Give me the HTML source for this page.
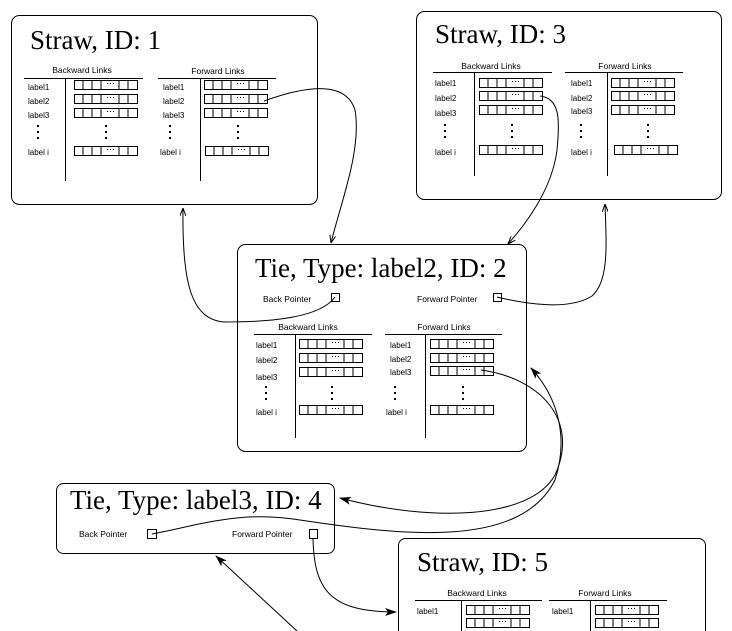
<!DOCTYPE html>
<html><head><meta charset="utf-8"><style>
html,body{margin:0;padding:0;background:#fff;}
svg{display:block;}
.t{font-family:"Liberation Serif",serif;font-size:27px;fill:#000;}
.s{font-family:"Liberation Sans",sans-serif;font-size:8px;fill:#000;}
.h{font-family:"Liberation Sans",sans-serif;font-size:8.5px;fill:#000;text-anchor:middle;}
.p{font-family:"Liberation Sans",sans-serif;font-size:8.5px;fill:#000;}
</style></head><body>
<svg width="732" height="631" viewBox="0 0 732 631" xmlns="http://www.w3.org/2000/svg">
<defs>
<g id="row" fill="none" stroke="#000" stroke-width="1">
<rect x="0.5" y="0.5" width="63" height="9"/>
<path d="M9 .5v9M18 .5v9M27 .5v9M45 .5v9M54 .5v9"/>
<path d="M33 3.5h1M36 3.5h1M39 3.5h1" stroke-width="1"/>
</g>
<g id="dots"><rect x="0" y="0" width="2" height="2"/><rect x="0" y="6" width="2" height="2"/><rect x="0" y="12" width="2" height="2"/></g>
<marker id="a" markerWidth="12" markerHeight="8" refX="11" refY="4" orient="auto" markerUnits="userSpaceOnUse"><path d="M0,0 L12,4 L0,8 L3,4 z" fill="#000"/></marker>
<marker id="b" markerWidth="8" markerHeight="6" refX="8" refY="3" orient="auto" markerUnits="userSpaceOnUse"><path d="M0,0 L8,3 L0,6" fill="none" stroke="#000"/></marker>
</defs>

<!-- Box 1 -->
<rect x="11.5" y="15.5" width="306" height="189" rx="8" fill="none" stroke="#000"/>
<text class="t" x="30" y="49">Straw, ID: 1</text>
<text class="h" x="82" y="73">Backward Links</text>
<path d="M24 78.5H143M65.5 78V181" stroke="#000"/>
<text class="s" x="28" y="90">label1</text><text class="s" x="28" y="104">label2</text><text class="s" x="28" y="118">label3</text><text class="s" x="28" y="155">label i</text>
<use href="#dots" x="37" y="125"/><use href="#dots" x="105" y="125"/>
<use href="#row" x="74" y="80"/><use href="#row" x="74" y="94"/><use href="#row" x="74" y="108"/><use href="#row" x="74" y="146"/>
<text class="h" x="218" y="74">Forward Links</text>
<path d="M158 78.5H276M200.5 78V181" stroke="#000"/>
<text class="s" x="163" y="90">label1</text><text class="s" x="163" y="104">label2</text><text class="s" x="163" y="118">label3</text><text class="s" x="160" y="155">label i</text>
<use href="#dots" x="169" y="125"/><use href="#dots" x="237" y="125"/>
<use href="#row" x="204" y="80"/><use href="#row" x="204" y="94"/><use href="#row" x="204" y="108"/><use href="#row" x="205" y="146"/>

<!-- Box 3 -->
<rect x="416.5" y="11.5" width="305" height="188" rx="8" fill="none" stroke="#000"/>
<text class="t" x="435" y="43">Straw, ID: 3</text>
<text class="h" x="491" y="69">Backward Links</text>
<path d="M433 72.5H552M474.5 72V176" stroke="#000"/>
<text class="s" x="435" y="86">label1</text><text class="s" x="435" y="101">label2</text><text class="s" x="435" y="116">label3</text><text class="s" x="435" y="155">label i</text>
<use href="#dots" x="444" y="124"/><use href="#dots" x="511" y="124"/>
<use href="#row" x="479" y="78"/><use href="#row" x="479" y="91"/><use href="#row" x="479" y="105"/><use href="#row" x="479" y="145"/>
<text class="h" x="625" y="69">Forward Links</text>
<path d="M565 72.5H683M607.5 72V176" stroke="#000"/>
<text class="s" x="571" y="86">label1</text><text class="s" x="571" y="101">label2</text><text class="s" x="571" y="114">label3</text><text class="s" x="571" y="155">label i</text>
<use href="#dots" x="580" y="124"/><use href="#dots" x="647" y="124"/>
<use href="#row" x="611" y="78"/><use href="#row" x="611" y="91"/><use href="#row" x="611" y="105"/><use href="#row" x="614" y="145"/>

<!-- Box 2 -->
<rect x="237.5" y="244.5" width="289" height="207" rx="8" fill="none" stroke="#000"/>
<text class="t" x="255" y="277">Tie, Type: label2, ID: 2</text>
<text class="p" x="263" y="302">Back Pointer</text>
<rect x="331.5" y="293.5" width="8" height="8" fill="none" stroke="#000"/>
<text class="p" x="417" y="302">Forward Pointer</text>
<rect x="493.5" y="293.5" width="8" height="8" fill="none" stroke="#000"/>
<text class="h" x="308" y="330">Backward Links</text>
<path d="M254 334.5H372M295.5 334V438" stroke="#000"/>
<text class="s" x="256" y="348">label1</text><text class="s" x="256" y="363">label2</text><text class="s" x="256" y="380">label3</text><text class="s" x="256" y="415">label i</text>
<use href="#dots" x="265" y="386"/><use href="#dots" x="331" y="386"/>
<use href="#row" x="299" y="339"/><use href="#row" x="299" y="353"/><use href="#row" x="299" y="367"/><use href="#row" x="299" y="405"/>
<text class="h" x="444" y="330">Forward Links</text>
<path d="M385 334.5H502M425.5 334V438" stroke="#000"/>
<text class="s" x="390" y="348">label1</text><text class="s" x="390" y="362">label2</text><text class="s" x="390" y="375">label3</text><text class="s" x="386" y="415">label i</text>
<use href="#dots" x="394" y="386"/><use href="#dots" x="462" y="386"/>
<use href="#row" x="430" y="339"/><use href="#row" x="430" y="353"/><use href="#row" x="430" y="366"/><use href="#row" x="430" y="405"/>

<!-- Box 4 -->
<rect x="56.5" y="483.5" width="278" height="70" rx="7" fill="none" stroke="#000"/>
<text class="t" x="70" y="509">Tie, Type: label3, ID: 4</text>
<text class="p" x="79" y="537">Back Pointer</text>
<rect x="147.5" y="529.5" width="9" height="9" fill="none" stroke="#000"/>
<text class="p" x="232" y="537">Forward Pointer</text>
<rect x="309.5" y="529.5" width="8" height="9" fill="none" stroke="#000"/>

<!-- Box 5 -->
<rect x="398.5" y="538.5" width="307" height="120" rx="7" fill="none" stroke="#000"/>
<text class="t" x="417" y="571">Straw, ID: 5</text>
<text class="h" x="477" y="596">Backward Links</text>
<path d="M415 600.5H542M461.5 600V631" stroke="#000"/>
<text class="s" x="417" y="614">label1</text>
<use href="#row" x="466" y="605"/><use href="#row" x="466" y="618"/>
<text class="h" x="605" y="596">Forward Links</text>
<path d="M549 600.5H667M590.5 600V631" stroke="#000"/>
<text class="s" x="552" y="614">label1</text>
<use href="#row" x="595" y="605"/><use href="#row" x="595" y="618"/>

<!-- connectors -->
<g fill="none" stroke="#000" stroke-width="1">
<path d="M264,101 C300,88 345,78 355,110 C362,150 340,205 331,243" marker-end="url(#b)"/>
<path d="M540,96 C560,98 560,120 557,150 C552,190 525,225 508,244" marker-end="url(#b)"/>
<path d="M335,297 C320,318 270,322 225,322 C190,320 182,280 183,208" marker-end="url(#b)"/>
<path d="M497,297 C530,305 570,310 592,296 C610,280 606,240 605,204" marker-end="url(#b)"/>
<path d="M481,370 C540,378 580,420 555,475 C530,520 430,522 340,498" marker-end="url(#a)"/>
<path d="M152,534 C200,525 240,510 300,520 C400,535 520,550 555,480 C568,440 560,400 531,368" marker-end="url(#a)"/>
<path d="M313,538 C314,590 330,612 396,612" marker-end="url(#a)"/>
<path d="M297,631 L216,556" marker-end="url(#a)"/>
</g>
</svg>
</body></html>
